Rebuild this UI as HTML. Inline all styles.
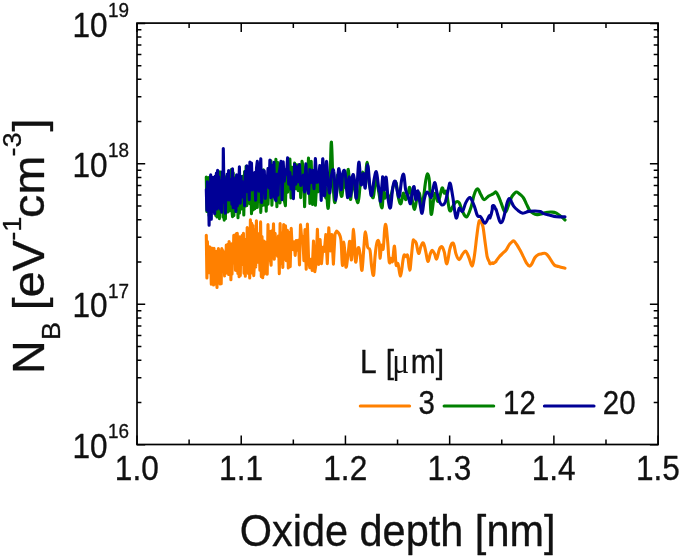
<!DOCTYPE html>
<html lang="en"><head><meta charset="utf-8"><title>N_B vs oxide depth</title>
<style>html,body{margin:0;padding:0;background:#fff;overflow:hidden}svg{display:block;will-change:transform}</style>
</head><body>
<svg width="685" height="560" viewBox="0 0 685 560">
<rect width="685" height="560" fill="#fff"/>
<g fill="none" stroke-linejoin="round" stroke-linecap="round" stroke-width="3.10">
<path stroke="#FF8000" d="M206.3 235.3L206.9 277.9L207.4 241.6L208.0 269.5L208.5 254.7L209.1 272.6L209.6 246.7L210.2 264.5L210.7 258.3L211.3 284.1L211.8 248.0L212.4 273.2L212.9 254.2L213.5 284.9L214.0 248.2L214.6 283.9L215.1 255.4L215.7 279.5L216.2 251.2L217.0 287.5L217.3 253.0L217.9 275.7L218.4 248.5L219.0 270.2L219.6 251.1L220.1 283.9L220.7 258.4L221.2 283.6L221.8 248.5L222.3 267.3L222.9 250.6L223.5 265.4L224.0 252.2L224.6 275.9L225.2 256.5L225.7 273.4L226.3 245.0L226.9 272.6L227.4 255.6L228.0 244.4L228.6 274.4L229.1 241.5L229.7 269.4L230.3 248.9L230.9 279.6L231.5 243.9L232.0 274.1L232.6 249.1L233.2 259.9L233.8 235.2L234.4 262.9L235.0 236.0L235.5 270.2L236.1 233.7L236.7 270.6L237.3 233.4L237.9 273.5L238.5 246.8L239.1 276.7L239.7 236.8L240.3 275.4L240.9 240.1L241.6 264.6L242.2 235.4L242.8 260.3L243.4 233.3L244.0 273.3L244.7 239.2L245.3 276.2L245.9 243.4L246.5 266.8L247.2 227.5L247.8 266.0L248.5 273.6L249.1 229.5L249.7 278.0L250.4 219.9L251.0 273.1L251.7 223.2L252.4 257.3L253.0 225.5L253.7 275.6L254.4 264.9L255.0 229.6L255.7 266.9L256.4 220.8L257.1 262.4L257.8 233.8L258.5 249.5L259.2 233.6L259.9 270.3L260.6 221.9L261.3 276.6L262.0 236.5L262.7 277.8L263.5 240.8L264.2 274.1L264.9 241.8L265.7 264.1L266.4 244.9L267.2 274.3L268.0 224.5L268.7 255.7L269.5 231.4L270.3 259.3L271.1 265.3L271.8 230.7L272.6 254.0L273.5 223.8L274.3 259.2L275.1 233.3L275.9 251.7L276.7 248.0L277.6 256.3L278.4 236.1L279.3 273.6L280.1 223.6L281.0 263.4L281.9 233.3L282.8 267.4L283.7 224.5L284.6 259.3L285.5 225.9L286.4 260.6L287.4 230.3L288.3 268.0L289.3 232.5L290.2 266.7L291.2 228.3L292.2 248.1L293.2 249.7L294.2 241.9L295.2 255.4L296.3 240.5L297.3 250.2L298.4 240.3L299.5 265.0L300.5 224.9L301.6 237.1L302.8 236.7L303.9 260.8L305.0 229.5L306.2 269.3L307.4 224.1L308.6 259.9L309.8 267.7L311.0 259.2L312.2 270.5L313.5 241.1L314.8 271.7L316.1 263.5L317.4 229.4L318.7 264.4L320.1 239.5L321.5 263.6L322.9 247.4L324.3 251.4L325.8 234.6L327.3 263.6L328.8 227.7L330.3 250.9L331.8 234.5L333.4 264.1L335.0 234.0L336.7 231.1C337.7 232.0 339.7 232.7 340.8 238.9C341.8 245.1 341.8 264.9 342.4 265.5C342.9 266.0 343.3 241.9 344.0 242.2C344.6 242.4 345.1 265.3 345.9 267.1C346.7 268.8 347.6 256.4 348.3 251.8C349.0 247.2 349.3 239.9 349.9 241.4C350.5 242.8 350.9 262.0 351.5 259.8C352.2 257.7 352.9 229.0 353.6 229.3C354.3 229.6 354.9 257.4 355.5 261.4C356.2 265.5 356.6 254.3 357.2 251.8C357.7 249.3 358.2 246.9 358.8 247.8C359.3 248.6 359.8 252.6 360.4 256.6C360.9 260.7 361.3 272.0 362.0 270.3C362.6 268.6 363.3 253.9 363.9 247.0C364.5 240.0 364.8 231.7 365.5 231.7C366.2 231.7 366.8 243.6 367.6 247.0C368.4 250.3 369.3 246.7 370.0 250.2C370.7 253.7 371.0 261.8 371.6 266.3C372.3 270.8 372.9 277.1 373.6 275.1C374.2 273.1 374.5 261.1 375.2 255.0C375.8 248.9 376.5 243.4 377.3 241.4C378.0 239.3 378.8 240.7 379.3 243.8C379.8 246.8 379.6 257.9 380.0 258.2C380.4 258.5 381.0 247.1 381.6 245.4C382.2 243.6 382.6 251.8 383.2 248.6C383.8 245.4 384.3 231.7 384.8 227.7C385.3 223.6 385.6 223.5 386.1 226.1C386.6 228.7 387.1 235.6 387.7 242.2C388.3 248.7 388.7 259.4 389.3 262.3C389.9 265.1 390.4 258.4 390.9 258.2C391.5 258.1 391.9 263.6 392.5 261.4C393.2 259.3 393.8 245.6 394.5 246.2C395.1 246.8 395.4 261.5 396.1 264.7C396.7 267.8 397.2 261.8 398.0 263.9C398.8 265.9 399.7 276.4 400.6 275.9C401.4 275.5 402.2 265.2 402.8 261.4C403.5 257.7 403.5 255.9 404.1 255.0C404.7 254.1 405.4 256.5 406.0 256.6C406.7 256.8 407.0 253.4 407.7 255.8C408.3 258.3 409.1 270.1 409.7 270.3C410.4 270.4 410.8 261.8 411.4 256.6C411.9 251.4 412.5 244.2 413.0 241.4C413.5 238.5 413.5 240.3 414.1 240.5C414.7 240.8 415.4 240.6 416.2 243.0C417.0 245.3 417.7 252.8 418.6 253.4C419.5 254.0 420.1 248.1 421.0 246.2C421.9 244.3 422.5 241.9 423.4 243.0C424.3 244.0 425.0 248.5 425.8 251.8C426.6 255.1 427.1 261.0 427.9 261.4C428.7 261.9 429.4 256.2 430.2 254.2C430.9 252.2 431.4 250.2 432.3 250.2C433.1 250.2 433.9 252.6 434.7 254.2C435.4 255.8 435.9 259.5 436.6 259.0C437.3 258.6 438.1 253.8 438.7 251.8C439.3 249.8 439.4 248.8 440.0 247.9C440.6 246.9 441.4 246.0 442.1 246.8C442.9 247.6 443.4 249.1 444.3 252.1C445.1 255.2 445.9 264.3 446.9 263.9C447.8 263.5 448.8 253.7 449.6 250.0C450.5 246.3 451.0 244.5 451.8 243.6C452.6 242.6 453.2 242.7 453.9 244.6C454.7 246.6 455.1 251.6 456.1 254.3C457.0 257.0 458.1 259.6 459.3 259.6C460.4 259.6 461.3 255.8 462.5 254.3C463.7 252.7 464.6 250.5 465.7 251.1C466.9 251.6 467.8 254.8 468.9 257.5C470.1 260.2 471.2 266.3 472.1 266.1C473.1 265.9 473.5 261.2 474.3 256.4C475.1 251.6 475.7 245.3 476.4 239.3C477.2 233.3 477.9 226.5 478.6 223.2C479.3 219.9 479.5 220.5 480.3 221.1C481.1 221.6 482.0 222.8 482.9 226.4C483.7 230.1 484.2 236.0 485.0 241.4C485.8 246.8 486.4 252.8 487.1 256.4C487.9 260.1 488.8 260.4 489.3 261.8C489.8 263.1 489.4 263.7 490.0 263.9C490.6 264.1 491.9 262.9 492.5 262.8C493.1 262.8 492.6 263.7 493.2 263.5C493.8 263.3 495.1 262.3 495.7 261.8C496.3 261.3 495.7 261.7 496.4 260.7C497.1 259.7 498.5 257.8 499.6 256.4C500.8 255.1 501.7 254.4 502.9 253.2C504.0 252.1 504.9 251.5 506.1 250.0C507.2 248.5 508.1 246.2 509.3 244.6C510.4 243.1 511.6 242.1 512.5 241.4C513.3 240.8 513.2 240.4 514.0 241.0C514.8 241.6 515.7 243.0 516.8 244.6C517.9 246.3 518.8 247.9 520.0 250.0C521.2 252.1 522.1 254.1 523.2 256.4C524.4 258.7 525.3 261.1 526.4 262.8C527.6 264.6 528.7 265.9 529.6 266.1C530.6 266.3 530.8 265.5 531.8 263.9C532.7 262.4 533.8 259.2 535.0 257.5C536.2 255.8 537.1 255.4 538.2 254.7C539.4 254.1 540.3 254.1 541.4 253.9C542.6 253.6 543.7 253.1 544.6 253.2C545.6 253.3 545.8 253.3 546.8 254.3C547.7 255.2 548.6 256.6 550.0 258.6C551.3 260.5 552.7 263.6 554.3 265.0C555.8 266.4 556.6 265.9 558.6 266.5C560.5 267.1 563.8 267.9 565.0 268.2"/>
<path stroke="#008000" d="M206.3 177.1L206.9 211.4L207.4 188.0L208.0 201.0L208.5 177.5L209.1 215.4L209.6 186.2L210.2 204.4L210.7 176.3L211.3 210.1L211.8 181.4L212.4 208.0L213.0 190.9L213.5 210.4L214.1 183.9L214.7 209.4L215.3 178.9L215.8 215.4L216.4 177.3L217.0 216.9L217.6 193.8L218.2 215.3L218.8 178.7L219.4 218.6L219.9 171.7L220.5 197.6L221.1 173.4L221.7 206.6L222.4 176.9L223.0 217.1L223.6 172.9L224.2 220.1L224.8 176.6L225.4 218.7L226.1 179.3L226.7 205.7L227.3 187.6L228.0 211.9L228.6 174.4L229.3 210.7L229.9 175.1L230.6 201.6L231.2 169.5L231.9 210.2L232.5 216.7L233.2 172.8L233.9 215.4L234.6 179.4L235.2 199.1L235.9 177.2L236.6 204.9L237.3 178.0L238.0 217.6L238.7 179.6L239.4 213.3L240.2 183.1L240.9 209.2L241.6 177.7L242.3 200.4L243.1 176.1L243.8 215.0L244.6 171.5L245.3 206.3L246.1 166.4L246.8 205.6L247.6 182.8L248.4 195.1L249.2 167.1L249.9 203.8L250.7 178.8L251.5 213.8L252.3 176.7L253.2 209.9L254.0 175.2L254.8 208.8L255.6 203.9L256.5 184.1L257.3 207.5L258.2 175.3L259.0 200.9L259.9 165.2L260.8 212.4L261.7 170.9L262.5 205.5L263.4 169.7L264.3 205.0L265.3 178.3L266.2 211.3L267.1 178.6L268.0 204.3L269.0 181.1L269.9 188.9L270.9 160.8L271.9 205.3L272.9 179.6L273.9 194.1L274.8 187.5L275.9 159.3L276.9 206.8L277.9 162.5L278.9 164.2L280.0 202.9L281.0 181.9L282.1 186.6L283.2 173.5L284.3 200.4L285.4 205.8L286.5 170.1L287.6 192.2L288.7 165.7L289.9 159.0L291.0 197.9L292.2 167.3L293.4 192.9L294.6 163.1L295.8 188.8L297.0 164.9L298.2 190.7L299.5 164.7L300.7 197.8L302.0 161.4L303.3 167.2L304.6 206.7L305.9 169.9L307.2 183.8L308.5 158.1L309.9 203.4L311.2 161.3L312.6 204.5L314.0 178.4L315.4 205.3L316.9 179.6L318.3 191.8L319.8 187.7L321.2 169.0L322.7 188.3C323.3 189.5 323.7 174.1 324.3 175.8C324.8 177.5 325.4 195.5 325.8 197.7C326.1 199.9 325.8 186.2 326.3 188.1C326.7 189.9 327.5 210.5 328.2 208.2C328.9 205.8 329.6 187.1 330.1 175.2C330.7 163.3 330.9 140.8 331.4 142.2C332.0 143.7 332.4 172.4 333.0 183.2C333.7 194.1 334.2 204.0 335.0 202.5C335.8 201.1 336.7 177.8 337.5 175.2C338.4 172.6 339.0 184.3 339.8 188.1C340.6 191.8 341.1 198.1 341.9 196.1C342.7 194.1 343.5 178.2 344.3 176.8C345.1 175.4 345.5 189.4 346.2 188.1C346.9 186.8 347.6 167.5 348.3 169.6C349.1 171.6 349.7 196.8 350.4 199.3C351.1 201.8 351.6 185.3 352.3 183.2C353.0 181.2 353.2 184.6 354.3 188.1C355.3 191.5 356.9 203.4 358.0 202.5C359.1 201.7 359.5 188.7 360.4 183.2C361.2 177.7 362.0 172.0 362.8 172.0C363.6 172.0 364.1 185.0 364.9 183.2C365.7 181.5 366.3 162.3 367.1 162.3C367.9 162.3 368.1 176.9 369.2 183.2C370.3 189.6 372.1 198.9 373.2 197.7C374.4 196.5 374.8 178.5 375.6 176.8C376.5 175.1 377.3 183.9 378.1 188.1C378.8 192.2 379.4 196.3 380.0 199.7C380.6 203.0 380.8 205.4 381.3 206.5C381.7 207.7 382.0 209.4 382.4 206.1C382.8 202.8 383.2 189.5 383.7 188.1C384.1 186.6 384.2 197.1 384.8 198.1C385.5 199.0 386.4 192.9 387.2 193.2C388.1 193.5 388.5 201.1 389.6 199.7C390.8 198.2 392.5 188.2 393.7 185.2C394.8 182.2 395.2 180.5 396.1 182.8C396.9 185.1 397.6 194.3 398.5 198.1C399.4 201.8 400.0 204.5 400.9 203.7C401.8 202.8 402.4 194.0 403.3 193.2C404.2 192.5 404.9 199.7 405.7 199.7C406.6 199.7 407.4 195.4 408.1 193.2C408.9 191.1 409.0 186.4 409.7 187.6C410.5 188.8 411.3 195.8 412.2 199.7C413.0 203.6 413.7 209.6 414.6 209.3C415.4 209.0 416.1 200.9 417.0 198.1C417.8 195.2 418.6 191.8 419.4 193.2C420.2 194.7 420.8 205.2 421.5 206.1C422.2 207.0 422.6 202.7 423.4 198.1C424.2 193.4 425.0 184.7 425.8 180.4C426.6 176.0 427.1 173.6 427.7 173.9C428.4 174.2 428.9 174.7 429.5 182.0C430.1 189.2 430.3 211.2 431.1 214.1C431.9 217.0 433.1 201.8 433.9 198.1C434.6 194.3 434.8 192.7 435.5 193.2C436.1 193.8 436.8 200.4 437.6 201.3C438.3 202.1 438.7 200.5 439.5 198.1C440.3 195.6 441.3 188.7 442.1 187.9C443.0 187.0 443.5 192.4 444.3 193.2C445.1 194.0 445.5 189.1 446.4 192.1C447.4 195.2 448.5 207.8 449.6 210.4C450.8 212.9 451.7 207.6 452.9 206.1C454.0 204.5 454.9 202.4 456.1 201.8C457.2 201.2 458.1 201.1 459.3 202.9C460.4 204.6 461.1 208.9 462.5 211.4C463.8 213.9 465.2 217.6 466.8 216.8C468.3 216.0 469.7 211.2 471.1 207.1C472.4 203.1 473.1 197.6 474.3 194.3C475.4 191.0 476.3 188.9 477.5 188.9C478.7 188.9 479.6 192.4 480.7 194.3C481.9 196.2 482.6 199.3 483.9 199.6C485.3 200.0 487.1 197.2 488.2 196.4C489.3 195.7 489.3 195.7 490.0 195.4C490.7 195.0 491.7 194.5 492.1 194.3C492.6 194.1 491.9 194.7 492.5 194.3C493.1 193.9 494.8 192.5 495.4 192.1C495.9 191.8 495.3 191.8 495.7 192.1C496.1 192.5 496.6 192.5 497.5 194.3C498.4 196.0 499.6 198.9 500.7 201.8C501.9 204.7 503.0 208.6 503.9 210.4C504.9 212.1 505.3 212.2 506.1 211.4C506.8 210.7 507.2 208.6 508.2 206.1C509.2 203.6 510.3 199.8 511.4 197.5C512.6 195.2 513.7 194.2 514.6 193.2C515.6 192.2 515.8 191.9 516.8 192.1C517.7 192.3 518.8 193.3 520.0 194.3C521.2 195.2 522.1 195.8 523.2 197.5C524.4 199.2 525.3 201.6 526.4 203.9C527.6 206.2 528.5 208.7 529.6 210.4C530.8 212.0 531.5 212.4 532.9 213.1C534.2 213.9 535.6 214.5 537.1 214.6C538.7 214.8 539.9 214.4 541.4 214.0C543.0 213.6 543.8 212.8 545.7 212.5C547.6 212.1 550.2 212.0 552.1 212.1C554.1 212.2 554.9 212.4 556.4 213.1C558.0 213.9 559.2 214.9 560.7 216.1C562.3 217.4 564.2 219.3 565.0 220.0"/>
<path stroke="#000096" d="M206.3 189.6L206.9 210.1L207.4 181.7L208.0 202.3L208.5 192.4L209.1 225.1L209.6 195.1L210.2 208.4L210.7 174.8L211.3 219.2L211.8 184.3L212.4 212.2L213.0 177.4L213.5 204.9L214.1 187.4L214.7 213.6L215.3 176.0L215.8 208.7L216.4 173.0L217.0 209.0L217.6 170.2L218.2 201.6L218.8 176.8L219.4 207.4L219.9 180.6L220.5 209.1L221.1 183.1L221.7 212.3L222.4 171.5L223.0 198.6L223.3 148.5L224.2 202.3L224.8 187.2L225.4 213.1L226.1 178.6L226.7 198.5L227.3 174.1L228.0 199.8L228.6 170.5L229.3 199.9L229.9 188.6L230.6 198.9L231.2 179.2L231.9 204.2L232.5 168.8L233.2 207.7L233.9 178.2L234.6 190.8L235.2 182.1L235.9 211.4L236.6 174.7L237.3 206.0L238.0 184.4L238.7 190.0L239.4 166.7L240.2 203.1L240.9 176.2L241.6 197.1L242.3 181.6L243.1 192.9L243.8 183.7L244.6 205.8L245.3 171.4L246.1 190.5L246.8 165.8L247.6 191.8L248.4 180.5L249.2 199.8L249.9 162.1L250.7 185.0L251.5 163.1L252.3 190.0L253.2 178.2L254.0 183.8L254.8 172.6L255.6 200.3L256.5 168.0L257.3 161.4L258.2 173.8L259.0 191.3L259.9 172.5L260.8 158.7L261.7 202.4L262.5 170.2L263.4 192.8L264.3 170.7L265.3 198.5L266.2 178.1L267.1 183.2L268.0 168.5L269.0 187.9L269.9 160.0L270.9 197.8L271.9 165.4L272.9 196.1L273.9 162.4L274.8 198.1L275.9 200.6L276.9 174.2L277.9 195.1L278.9 174.4L280.0 167.6L281.0 161.2L282.1 199.7L283.2 161.8L284.3 181.1L285.4 169.7L286.5 174.2L287.6 157.9L288.7 184.2L289.9 172.4L291.0 189.0L292.2 177.1L293.4 198.6L294.6 164.3L295.8 184.1L297.0 166.9L298.2 181.8L299.5 164.6L300.7 185.5L302.0 180.4L303.3 175.2L304.6 192.0L305.9 163.9L307.2 187.1L308.5 193.4L309.9 169.6L311.2 182.4L312.6 170.5L314.0 188.6L315.4 158.6L316.9 182.3L318.3 181.6L319.8 165.6L321.2 200.4L322.7 158.8C323.3 157.9 323.7 192.2 324.3 195.5C324.8 198.8 325.4 183.3 325.8 177.2C326.2 171.1 326.2 160.4 326.6 161.5C327.0 162.6 327.6 177.6 328.2 183.2C328.8 188.9 329.2 194.2 329.8 192.9C330.4 191.6 330.7 179.9 331.4 176.0C332.2 172.1 333.0 166.8 333.8 171.2C334.7 175.5 335.1 200.5 335.9 200.1C336.8 199.7 337.7 170.6 338.7 168.8C339.6 166.9 340.4 188.8 341.1 189.7C341.8 190.5 342.0 176.6 342.7 173.6C343.4 170.5 344.2 168.4 345.1 172.8C346.0 177.1 346.8 197.0 347.5 197.7C348.2 198.4 348.5 177.1 349.1 176.8C349.7 176.5 350.1 196.4 350.7 196.1C351.4 195.8 351.9 177.8 352.7 175.2C353.4 172.6 354.1 177.6 354.7 181.6C355.4 185.7 355.6 201.2 356.4 197.7C357.1 194.2 357.9 164.6 358.8 162.3C359.6 160.0 360.3 182.8 361.2 184.8C362.0 186.9 362.9 173.0 363.6 173.6C364.3 174.2 364.5 189.6 365.2 188.1C365.9 186.5 366.7 164.7 367.6 164.7C368.5 164.7 369.3 182.6 370.0 188.1C370.7 193.6 370.9 196.7 371.6 195.3C372.3 193.8 373.2 184.2 374.0 180.0C374.9 175.8 375.6 170.2 376.4 172.0C377.3 173.7 378.2 185.8 378.9 189.7C379.5 193.5 379.7 191.2 380.0 193.2C380.3 195.3 380.0 203.4 380.5 200.9C380.9 198.5 382.0 183.6 382.4 179.6C382.8 175.5 382.5 176.5 382.9 178.4C383.3 180.3 383.9 190.2 384.5 190.0C385.1 189.8 385.5 175.7 386.1 177.2C386.7 178.6 387.3 192.6 388.0 198.1C388.8 203.6 389.6 209.7 390.5 207.7C391.3 205.7 392.0 191.6 392.9 186.8C393.7 182.0 394.5 180.3 395.3 181.2C396.1 182.0 396.6 188.9 397.4 191.6C398.1 194.4 398.5 198.6 399.3 196.4C400.1 194.3 400.9 183.5 401.7 179.6C402.5 175.7 403.1 172.9 403.8 174.7C404.5 176.6 404.9 186.1 405.7 190.0C406.5 193.9 407.3 194.0 408.1 196.4C409.0 198.9 409.8 204.3 410.5 203.7C411.3 203.1 411.5 196.3 412.2 193.2C412.8 190.2 413.4 185.6 414.1 186.8C414.7 188.0 415.0 198.9 415.7 199.7C416.4 200.4 417.0 190.2 417.8 190.8C418.5 191.4 419.1 198.8 419.9 202.9C420.7 206.9 421.3 213.9 422.1 213.3C422.9 212.7 423.4 203.4 424.2 199.7C425.0 195.9 425.8 193.4 426.6 192.4C427.5 191.4 428.2 193.2 429.0 194.0C429.8 194.9 430.4 198.3 431.1 197.3C431.8 196.2 432.4 191.0 433.1 188.4C433.7 185.8 434.3 181.9 435.0 182.8C435.7 183.6 436.3 189.9 437.1 193.2C437.9 196.6 438.6 199.2 439.5 201.3C440.4 203.4 441.1 204.9 442.1 205.0C443.2 205.1 444.2 204.9 445.4 201.8C446.5 198.7 447.7 191.1 448.6 187.9C449.5 184.6 449.5 181.8 450.3 183.6C451.1 185.3 451.8 191.3 452.9 197.5C453.9 203.7 454.9 215.9 456.1 217.9C457.2 219.8 458.1 209.4 459.3 208.2C460.4 207.1 461.3 212.4 462.5 211.4C463.7 210.5 464.4 205.4 465.7 202.9C467.1 200.3 468.5 196.9 470.0 197.5C471.5 198.1 472.9 202.8 474.3 206.1C475.6 209.3 476.3 213.8 477.5 215.7C478.7 217.6 479.4 215.4 480.7 216.8C482.1 218.1 483.5 223.4 485.0 223.2C486.5 223.0 488.4 216.7 489.3 215.7C490.2 214.7 489.5 218.8 490.0 217.9C490.5 216.9 491.7 212.5 492.1 210.4C492.6 208.2 492.1 206.8 492.5 206.1C492.9 205.3 493.7 205.5 494.3 206.1C494.9 206.6 495.3 208.5 495.7 209.3C496.1 210.1 495.7 208.2 496.4 210.4C497.1 212.5 498.7 218.9 499.6 221.1C500.6 223.2 501.0 222.9 501.8 222.1C502.6 221.4 503.0 220.3 503.9 216.8C504.9 213.3 506.2 206.1 507.1 202.9C508.1 199.6 508.5 198.8 509.3 198.6C510.1 198.4 510.7 200.4 511.4 201.8C512.2 203.1 512.4 204.5 513.6 206.1C514.7 207.6 516.3 209.1 517.9 210.4C519.4 211.6 520.8 212.8 522.1 213.1C523.5 213.5 524.2 212.8 525.4 212.5C526.5 212.2 526.8 211.7 528.6 211.4C530.3 211.2 532.9 211.0 535.0 211.0C537.1 211.0 538.8 211.0 540.4 211.4C541.9 211.9 541.8 212.9 543.6 213.6C545.3 214.3 547.7 214.7 550.0 215.3C552.3 215.9 553.7 216.5 556.4 216.8C559.1 217.1 563.5 216.8 565.0 216.8"/>
<path stroke="#FF8000" d="M360.3 406H409.6"/>
<path stroke="#008000" d="M444.1 406H493.7"/>
<path stroke="#000096" d="M544.4 406H594"/>
</g>
<path fill="none" stroke="#000" stroke-width="1.50" d="M137.00 444.50v-8.90 M137.00 23.10v8.90 M189.11 444.50v-5.00 M189.11 23.10v5.00 M241.22 444.50v-8.90 M241.22 23.10v8.90 M293.33 444.50v-5.00 M293.33 23.10v5.00 M345.44 444.50v-8.90 M345.44 23.10v8.90 M397.55 444.50v-5.00 M397.55 23.10v5.00 M449.66 444.50v-8.90 M449.66 23.10v8.90 M501.77 444.50v-5.00 M501.77 23.10v5.00 M553.88 444.50v-8.90 M553.88 23.10v8.90 M605.99 444.50v-5.00 M605.99 23.10v5.00 M658.10 444.50v-8.90 M658.10 23.10v8.90 M137.00 444.80h8.20 M658.10 444.80h-8.20 M137.00 402.47h4.40 M658.10 402.47h-4.40 M137.00 377.73h4.40 M658.10 377.73h-4.40 M137.00 360.18h4.40 M658.10 360.18h-4.40 M137.00 346.57h4.40 M658.10 346.57h-4.40 M137.00 335.45h4.40 M658.10 335.45h-4.40 M137.00 326.04h4.40 M658.10 326.04h-4.40 M137.00 317.90h4.40 M658.10 317.90h-4.40 M137.00 310.71h4.40 M658.10 310.71h-4.40 M137.00 304.33h8.20 M658.10 304.33h-8.20 M137.00 262.00h4.40 M658.10 262.00h-4.40 M137.00 237.26h4.40 M658.10 237.26h-4.40 M137.00 219.71h4.40 M658.10 219.71h-4.40 M137.00 206.10h4.40 M658.10 206.10h-4.40 M137.00 194.98h4.40 M658.10 194.98h-4.40 M137.00 185.58h4.40 M658.10 185.58h-4.40 M137.00 177.43h4.40 M658.10 177.43h-4.40 M137.00 170.24h4.40 M658.10 170.24h-4.40 M137.00 163.87h8.20 M658.10 163.87h-8.20 M137.00 121.53h4.40 M658.10 121.53h-4.40 M137.00 96.80h4.40 M658.10 96.80h-4.40 M137.00 79.25h4.40 M658.10 79.25h-4.40 M137.00 65.63h4.40 M658.10 65.63h-4.40 M137.00 54.51h4.40 M658.10 54.51h-4.40 M137.00 45.11h4.40 M658.10 45.11h-4.40 M137.00 36.96h4.40 M658.10 36.96h-4.40 M137.00 29.78h4.40 M658.10 29.78h-4.40 M137.00 23.40h8.20 M658.10 23.40h-8.20"/>
<rect x="137.00" y="23.10" width="521.10" height="421.40" fill="none" stroke="#000" stroke-width="1.70"/>
<g fill="#111" stroke="#111" stroke-width="0.3" stroke-linejoin="round" font-family="'Liberation Sans', sans-serif">
<text transform="translate(136.80,480.20) scale(1,1.1240)" font-size="31.6" text-anchor="middle">1.0</text>
<text transform="translate(241.02,480.20) scale(1,1.1240)" font-size="31.6" text-anchor="middle">1.1</text>
<text transform="translate(345.24,480.20) scale(1,1.1240)" font-size="31.6" text-anchor="middle">1.2</text>
<text transform="translate(449.46,480.20) scale(1,1.1240)" font-size="31.6" text-anchor="middle">1.3</text>
<text transform="translate(553.68,480.20) scale(1,1.1240)" font-size="31.6" text-anchor="middle">1.4</text>
<text transform="translate(657.90,480.20) scale(1,1.1240)" font-size="31.6" text-anchor="middle">1.5</text>
<text transform="translate(107.60,457.90) scale(1,1.1240)" font-size="31.6" text-anchor="end">10</text>
<text transform="translate(108.00,438.20) scale(1,1.0534)" font-size="18.9">16</text>
<text transform="translate(107.60,317.43) scale(1,1.1240)" font-size="31.6" text-anchor="end">10</text>
<text transform="translate(108.00,297.73) scale(1,1.0534)" font-size="18.9">17</text>
<text transform="translate(107.60,176.97) scale(1,1.1240)" font-size="31.6" text-anchor="end">10</text>
<text transform="translate(108.00,157.27) scale(1,1.0534)" font-size="18.9">18</text>
<text transform="translate(107.60,36.50) scale(1,1.1240)" font-size="31.6" text-anchor="end">10</text>
<text transform="translate(108.00,16.80) scale(1,1.0534)" font-size="18.9">19</text>
<text transform="translate(397.60,546.20) scale(1,1.0850)" font-size="41.5" text-anchor="middle">Oxide depth [nm]</text>
<text transform="translate(44.0,246.4) scale(1,1.0860) rotate(-90) scale(1,1.03)" font-size="43"><tspan x="-117.4">N</tspan><tspan x="-86.3" dy="15.5" font-size="25.0">B</tspan><tspan x="-70.8" dy="-15.5"> [eV</tspan><tspan x="5.2" dy="-22.8" font-size="25.0">-1</tspan><tspan x="26.2" dy="22.8">cm</tspan><tspan x="82.8" dy="-22.8" font-size="25.0">-3</tspan><tspan x="105.9" dy="22.8">]</tspan></text>
<text transform="translate(0,373.2) scale(1,1.1077)" font-size="30"><tspan x="359.9">L</tspan><tspan x="385.7"> </tspan><tspan x="385.7">[</tspan><tspan x="392.2" font-size="31.5" stroke="none" font-family="'Liberation Serif', serif">μ</tspan><tspan x="410.8">m]</tspan></text>
<text transform="translate(418.60,413.80) scale(1,1.1077)" font-size="29.5">3</text>
<text transform="translate(503.00,413.80) scale(1,1.1077)" font-size="29.5">12</text>
<text transform="translate(602.80,413.80) scale(1,1.1077)" font-size="29.5">20</text>
</g></svg>
</body></html>
